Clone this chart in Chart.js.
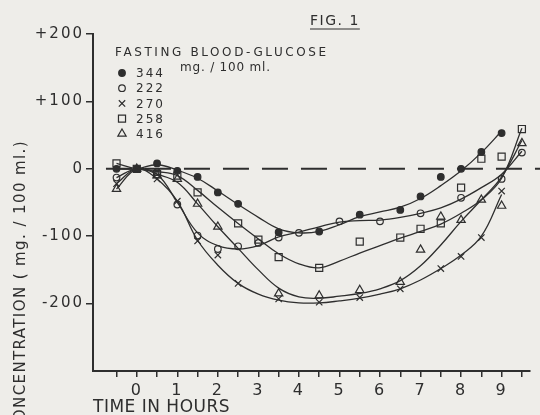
<!DOCTYPE html>
<html><head><meta charset="utf-8">
<script src="https://cdn.jsdelivr.net/npm/chart.js@4.4.1/dist/chart.umd.min.js"></script>
<style>html,body{margin:0;padding:0;background:#eeede9;}canvas{display:block;}</style>
</head><body>
<canvas id="c" width="540" height="415"></canvas>
<script>
// ---- data ----
const TIMES = [-0.5, 0, 0.5, 1, 1.5, 2, 2.5, 3, 3.5, 4, 4.5, 5, 5.5, 6, 6.5, 7, 7.5, 8, 8.5, 9, 9.5];
const SERIES_NAMES = ['344', '222', '270', '258', '416'];
// measured points (mg./100 ml. change)
const PTS_344 = [0, 0, 8, -3, -12, -35, -52, null, -94, null, -93, null, -68, null, -61, -41, -12, 0, 25, 53, null];
const PTS_222 = [-13, 0, -5, -53, -99, -119, -115, -110, -102, -95, null, -78, null, -78, null, -66, null, -43, null, -15, 24];
const PTS_270 = [-22, 0, -15, -48, -107, -128, -170, null, -193, null, -198, null, -191, null, -178, null, -148, -130, -102, -33, null];
const PTS_258 = [8, 0, -8, -10, -35, null, -81, -105, -131, null, -147, null, -108, null, -102, -89, -81, -28, 15, 18, 59];
const PTS_416 = [-30, 0, -10, -15, -52, -86, null, null, -185, null, -188, null, -180, null, -168, -120, -71, -76, -46, -55, 38];
// fitted curves
const FIT_344 = [0, 0, 6, -2, -14, -33, -53, -72, -89, -95, -93, -83, -71, -64, -57, -44, -25, -3, 24, 56, null];
const FIT_222 = [-13, 0, -8, -50, -95, -114, -119, -114, -101, -94, -86, -79, -77, -76, -72, -66, -58, -45, -28, -8, 26];
const FIT_270 = [-22, 0, -15, -48, -106, -143, -170, -186, -195, -199, -199, -196, -192, -186, -178, -165, -148, -128, -100, -38, null];
const FIT_258 = [8, 0, -4, -10, -32, -57, -81, -104, -126, -141, -147, -137, -125, -114, -103, -93, -82, -66, -46, -14, 60];
const FIT_416 = [-30, 0, -8, -20, -52, -86, -118, -150, -177, -190, -192, -189, -185, -178, -166, -144, -113, -78, -46, -12, 42];
const Y_TICKS = [-200, -100, 0, 100, 200];
const X_TICKS = [-0.5, 0, 0.5, 1, 1.5, 2, 2.5, 3, 3.5, 4, 4.5, 5, 5.5, 6, 6.5, 7, 7.5, 8, 8.5, 9, 9.5];
const X_RANGE = [-1.08, 9.7];
const Y_RANGE = [-300, 200];
const ZERO_VALUE = 0;
const ZERO_FROM = -0.76;
const TITLE = 'FIG. 1';
const LEGEND_TITLE = 'FASTING BLOOD-GLUCOSE';
const LEGEND_UNIT = 'mg. / 100 ml.';
const X_TITLE = 'TIME IN HOURS';
const Y_TITLE = 'CONCENTRATION ( mg. / 100 ml.)';

// ---- styling ----
const INK = '#2e2e2e';
const FONT = '"DejaVu Sans", sans-serif';
const MARKERS = [
  {pointStyle: 'circle', radius: 3.3, fill: INK},
  {pointStyle: 'circle', radius: 3.3, fill: 'rgba(0,0,0,0)'},
  {pointStyle: 'crossRot', radius: 4.5, fill: 'rgba(0,0,0,0)'},
  {pointStyle: 'rect', radius: 5, fill: 'rgba(0,0,0,0)'},
  {pointStyle: 'triangle', radius: 4.8, fill: 'rgba(0,0,0,0)'}
];
const PTS = [PTS_344, PTS_222, PTS_270, PTS_258, PTS_416];
const FITS = [FIT_344, FIT_222, FIT_270, FIT_258, FIT_416];

function toXY(arr) {
  const out = [];
  TIMES.forEach((t, i) => { if (arr[i] !== null) out.push({x: t, y: arr[i]}); });
  return out;
}

const datasets = [];
FITS.forEach((f, i) => {
  datasets.push({
    label: SERIES_NAMES[i] + ' fit', data: toXY(f), showLine: true,
    borderColor: INK, borderWidth: 1.3, pointRadius: 0, tension: 0.4, fill: false
  });
});
PTS.forEach((p, i) => {
  const m = MARKERS[i];
  datasets.push({
    label: SERIES_NAMES[i], data: toXY(p), showLine: false,
    pointStyle: m.pointStyle, pointRadius: m.radius, pointBackgroundColor: m.fill,
    pointBorderColor: INK, pointBorderWidth: 1.2
  });
});

const decor = {
  id: 'decor',
  beforeDraw(chart) {
    chart.ctx.letterSpacing = '2px';
  },
  beforeDatasetsDraw(chart) {
    const ctx = chart.ctx, xs = chart.scales.x, ys = chart.scales.y;
    ctx.save();
    ctx.strokeStyle = INK; ctx.lineWidth = 2; ctx.setLineDash([26, 13]);
    const y0 = ys.getPixelForValue(ZERO_VALUE);
    ctx.beginPath(); ctx.moveTo(xs.getPixelForValue(ZERO_FROM), y0); ctx.lineTo(chart.width, y0); ctx.stroke();
    ctx.restore();
  },
  afterDraw(chart) {
    const ctx = chart.ctx;
    ctx.save();
    ctx.fillStyle = INK; ctx.strokeStyle = INK;
    // title
    ctx.font = '14px ' + FONT; ctx.letterSpacing = '1.5px';
    ctx.textBaseline = 'alphabetic'; ctx.textAlign = 'left';
    ctx.fillText(TITLE, 310, 25);
    const tw = ctx.measureText(TITLE).width;
    ctx.lineWidth = 1.2; ctx.beginPath(); ctx.moveTo(310, 29); ctx.lineTo(310 + tw, 29); ctx.stroke();
    // legend title
    ctx.font = '12px ' + FONT; ctx.letterSpacing = '2.6px';
    ctx.fillText(LEGEND_TITLE, 115, 56);
    ctx.letterSpacing = '0.8px';
    ctx.fillText(LEGEND_UNIT, 180, 71);
    // legend entries
    ctx.letterSpacing = '2px';
    SERIES_NAMES.forEach((n, i) => {
      const y = 73 + i * 15.2;
      const m = MARKERS[i];
      ctx.fillStyle = m.fill; ctx.strokeStyle = INK; ctx.lineWidth = 1.2;
      Chart.helpers.drawPoint(ctx, {pointStyle: m.pointStyle, radius: m.radius, rotation: 0, borderWidth: 1.2}, 122, y);
      ctx.fillStyle = INK; ctx.textBaseline = 'middle';
      ctx.fillText(n, 136, y + 1);
    });
    // x title
    ctx.font = '17px ' + FONT; ctx.letterSpacing = '0.5px'; ctx.textBaseline = 'alphabetic';
    ctx.fillText(X_TITLE, 93, 412);
    // y title (rotated)
    ctx.translate(21, 140); ctx.rotate(-Math.PI / 2);
    ctx.font = '15px ' + FONT; ctx.letterSpacing = '1.4px';
    ctx.textAlign = 'right'; ctx.textBaseline = 'middle';
    ctx.fillText(Y_TITLE, 0, 0);
    ctx.restore();
  }
};

new Chart(document.getElementById('c'), {
  type: 'scatter',
  data: {datasets},
  options: {
    responsive: false, animation: false, devicePixelRatio: 1,
    layout: {padding: {left: 0, right: 10, top: 34, bottom: 0}},
    plugins: {legend: {display: false}, tooltip: {enabled: false}},
    scales: {
      x: {
        type: 'linear', min: X_RANGE[0], max: X_RANGE[1],
        afterFit(s) { s.height = 44; },
        afterBuildTicks(s) { s.ticks = X_TICKS.map(v => ({value: v})); },
        ticks: {
          color: INK, font: {family: FONT, size: 16}, padding: 4, maxRotation: 0, autoSkip: false,
          callback: v => (Number.isInteger(v) && v >= 0 && v <= 9) ? String(v) : ''
        },
        grid: {drawOnChartArea: false, drawTicks: true, tickLength: 6, color: INK, lineWidth: 1.5},
        border: {display: true, color: INK, width: 2}
      },
      y: {
        type: 'linear', min: Y_RANGE[0], max: Y_RANGE[1],
        afterFit(s) { s.width = 93; },
        afterBuildTicks(s) { s.ticks = Y_TICKS.map(v => ({value: v})); },
        ticks: {
          color: INK, font: {family: FONT, size: 15}, padding: 2,
          callback: v => v > 0 ? '+' + v : String(v)
        },
        grid: {drawOnChartArea: false, drawTicks: true, tickLength: 7, color: INK, lineWidth: 1.5},
        border: {display: true, color: INK, width: 2}
      }
    }
  },
  plugins: [decor]
});
</script>
</body></html>
